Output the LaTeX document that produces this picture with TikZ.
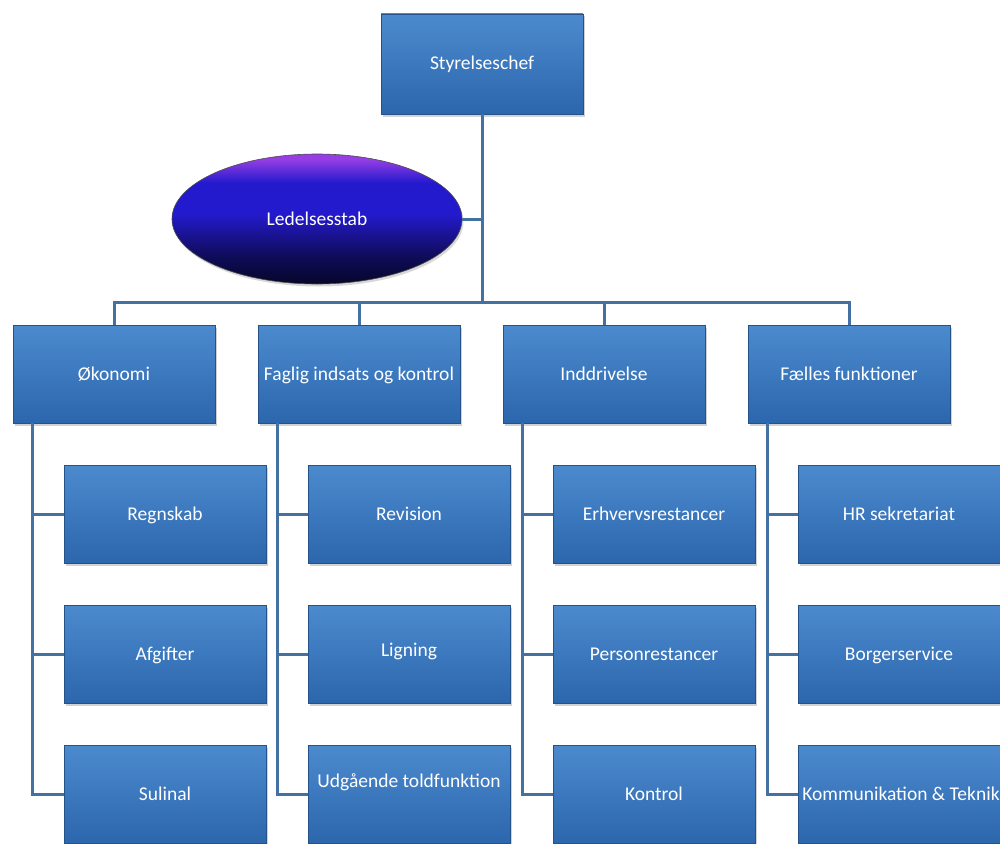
\documentclass[tikz,border=0pt]{standalone}
\usepackage{fontspec}
\newfontfamily\orgfont{Carlito}
\usetikzlibrary{shapes.geometric,shadows}

\definecolor{boxtop}{RGB}{76,138,206}
\definecolor{boxbot}{RGB}{44,102,172}
\definecolor{boxedge}{RGB}{38,82,138}
\definecolor{linkcol}{RGB}{68,112,162}
\definecolor{staffdark}{RGB}{6,6,42}
\definecolor{staffblue}{RGB}{36,26,205}
\definecolor{staffpurple}{RGB}{150,62,228}

\pgfdeclareverticalshading{staffshade}{100bp}{color(0bp)=(staffdark); color(25bp)=(staffdark); color(36bp)=(staffdark!70!staffblue); color(52bp)=(staffblue); color(64bp)=(staffblue); color(73bp)=(staffpurple); color(100bp)=(staffpurple)}

\begin{document}
\begin{tikzpicture}[x=1pt,y=1pt]
\tikzstyle{celltext}=[text=white, font=\orgfont\fontsize{19.5}{22}\selectfont, text height=12pt, text depth=0pt]
\tikzstyle{unit}=[rectangle, celltext, minimum width=202pt, minimum height=98pt, inner sep=0pt,
  top color=boxtop, bottom color=boxbot, draw=boxedge, line width=0.8pt,
  drop shadow={shadow xshift=1.5pt, shadow yshift=-2.5pt, opacity=0.35}]
\tikzstyle{staff}=[ellipse, celltext, minimum width=290pt, minimum height=130pt, inner sep=0pt,
  shading=staffshade, draw=black!70, line width=0.6pt,
  drop shadow={shadow xshift=1.5pt, shadow yshift=-2.5pt, opacity=0.3}]
\tikzstyle{link}=[draw=linkcol, line width=3pt]
\useasboundingbox (0,0) rectangle (1000,-843);
\fill[white] (0,0) rectangle (1000,-843);
\clip (0,0) rectangle (1000,-843);
% top and staff
\node[unit, minimum height=100pt] (chef) at (482,-64) {Styrelseschef};
\node[staff] (stab) at (317,-219) {Ledelsesstab};
% departments
\node[unit] (okon) at (114,-374) {Økonomi};
\node[unit] (fagl) at (359,-374) {Faglig indsats og kontrol};
\node[unit] (inddr) at (604,-374) {Inddrivelse};
\node[unit] (faell) at (849,-374) {Fælles funktioner};
% offices
\node[unit] (regn) at (165,-514) {Regnskab};
\node[unit] (afg) at (165,-654) {Afgifter};
\node[unit] (sul) at (165,-794) {Sulinal};
\node[unit] (rev) at (409,-514) {Revision};
\node[unit, label={[name=ligtxt, celltext, yshift=4pt]center:Ligning}] (lig) at (409,-654) {};
\node[unit, label={[name=udgtxt, celltext, yshift=13pt]center:Udgående toldfunktion}] (udg) at (409,-794) {};
\node[unit] (erhv) at (654,-514) {Erhvervsrestancer};
\node[unit] (pers) at (654,-654) {Personrestancer};
\node[unit] (kontr) at (654,-794) {Kontrol};
\node[unit] (hr) at (899,-514) {HR sekretariat};
\node[unit] (borg) at (899,-654) {Borgerservice};
\node[unit, label={[name=komtxt, celltext, xshift=2pt]center:Kommunikation \& Teknik}] (kom) at (899,-794) {};
% lines
\coordinate (bus) at (482,-302);
\draw[link] (chef.south) -- (bus);
\draw[link] (stab.east) -- (stab.east -| bus);
\draw[link] (okon.north) |- (bus) -| (faell.north);
\draw[link] (fagl.north) -- (fagl.north |- bus);
\draw[link] (inddr.north) -- (inddr.north |- bus);
\coordinate (okonstem) at ([xshift=20pt]okon.south west);
\coordinate (faglstem) at ([xshift=20pt]fagl.south west);
\coordinate (inddrstem) at ([xshift=20pt]inddr.south west);
\coordinate (faellstem) at ([xshift=20pt]faell.south west);
\draw[link] (okonstem) |- (sul.west);
\draw[link] (okonstem) |- (regn.west);
\draw[link] (okonstem) |- (afg.west);
\draw[link] (faglstem) |- (udg.west);
\draw[link] (faglstem) |- (rev.west);
\draw[link] (faglstem) |- (lig.west);
\draw[link] (inddrstem) |- (kontr.west);
\draw[link] (inddrstem) |- (erhv.west);
\draw[link] (inddrstem) |- (pers.west);
\draw[link] (faellstem) |- (kom.west);
\draw[link] (faellstem) |- (hr.west);
\draw[link] (faellstem) |- (borg.west);
\end{tikzpicture}
\end{document}
